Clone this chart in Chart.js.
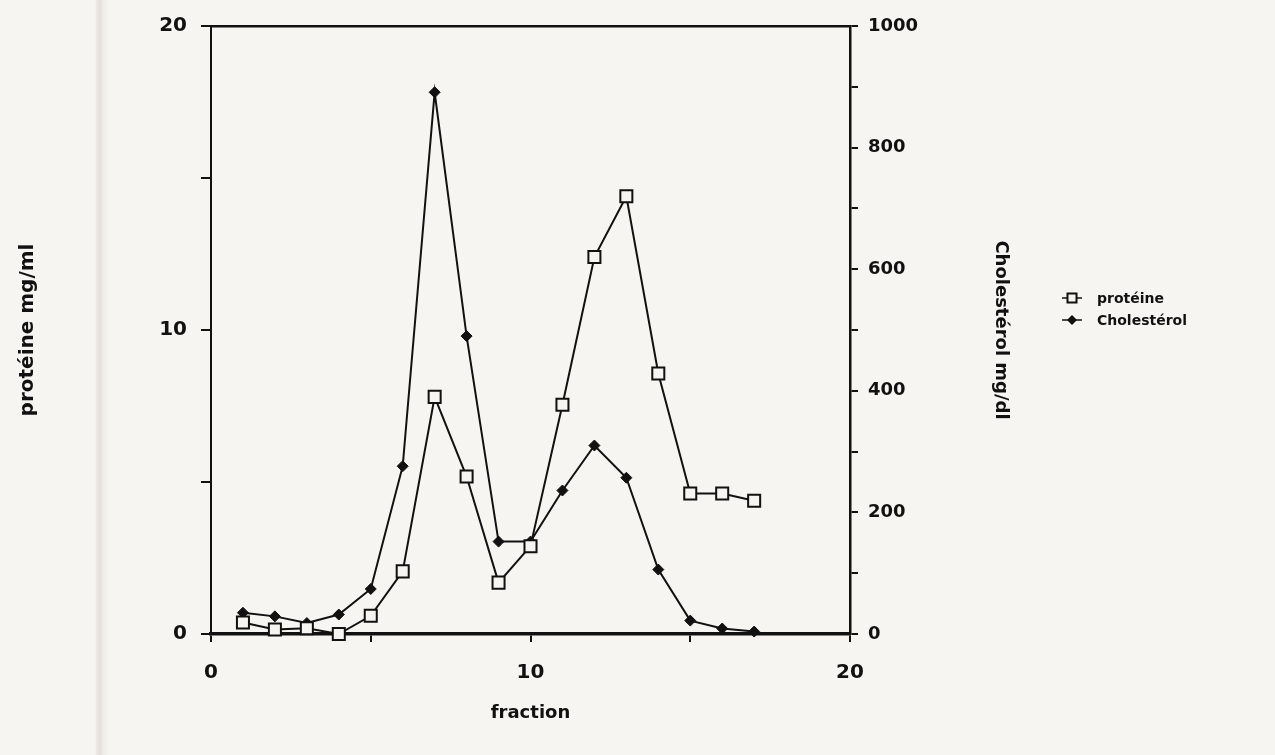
<!DOCTYPE html>
<html>
<head>
<meta charset="utf-8">
<script src="https://cdn.jsdelivr.net/npm/chart.js@4/dist/chart.umd.min.js"></script>
<style>
  body {
    margin: 0;
    background: linear-gradient(to right, #f6f5f1 0px, #f6f5f1 95px, #ebe5e1 97px, #e6dfdb 100px, #f1efea 104px, #f6f5f1 110px, #f6f5f1 100%);
  }
  canvas { display: block; }
</style>
</head>
<body>
<canvas id="fractionChart" width="1275" height="755"></canvas>
<script>
const fractions = [1, 2, 3, 4, 5, 6, 7, 8, 9, 10, 11, 12, 13, 14, 15, 16, 17];
const proteine = [0.38, 0.15, 0.19, 0, 0.6, 2.06, 7.8, 5.18, 1.69, 2.89, 7.54, 12.4, 14.4, 8.57, 4.62, 4.62, 4.38];
const cholesterol = [35, 29, 18, 32, 74, 276, 891, 490, 152, 152, 236, 310, 257, 106, 22, 9, 4];

const seriesLabels = ['protéine', 'Cholestérol'];
const xTitle = 'fraction';
const yTitle = 'protéine mg/ml';
const y1Title = 'Cholestérol mg/dl';

const paper = '#f6f5f1';
const ink = '#111';

// legend drawn on the right, like the original Mac plot
const sideLegend = {
  id: 'sideLegend',
  afterDraw(chart) {
    const c = chart.ctx;
    c.save();
    chart.data.datasets.forEach((ds, i) => {
      const y = 298 + i * 22;
      c.strokeStyle = ink;
      c.lineWidth = 1.5;
      c.beginPath();
      c.moveTo(1062, y);
      c.lineTo(1082, y);
      c.stroke();
      c.beginPath();
      if (i === 0) {
        c.fillStyle = paper;
        c.fillRect(1067.5, y - 4.5, 9, 9);
        c.lineWidth = 2;
        c.strokeRect(1067.5, y - 4.5, 9, 9);
      } else {
        c.fillStyle = ink;
        c.moveTo(1072, y - 5);
        c.lineTo(1077, y);
        c.lineTo(1072, y + 5);
        c.lineTo(1067, y);
        c.closePath();
        c.fill();
      }
      c.fillStyle = ink;
      c.font = 'bold 14px "DejaVu Sans"';
      c.textBaseline = 'middle';
      c.textAlign = 'left';
      c.fillText(ds.label, 1097, y + 1);
    });
    c.restore();
  }
};

const ctx = document.getElementById('fractionChart');

new Chart(ctx, {
  type: 'line',
  data: {
    datasets: [{
      label: seriesLabels[0],
      data: fractions.map((f, i) => ({ x: f, y: proteine[i] })),
      yAxisID: 'y',
      borderColor: ink,
      borderWidth: 2,
      pointStyle: 'rect',
      pointRadius: 8.5,
      pointBorderWidth: 2,
      pointBorderColor: ink,
      pointBackgroundColor: paper,
      tension: 0,
      clip: false
    }, {
      label: seriesLabels[1],
      data: fractions.map((f, i) => ({ x: f, y: cholesterol[i] })),
      yAxisID: 'y1',
      borderColor: ink,
      borderWidth: 2,
      pointStyle: 'rectRot',
      pointRadius: 5.5,
      pointBorderWidth: 1,
      pointBorderColor: ink,
      pointBackgroundColor: ink,
      tension: 0,
      clip: false
    }]
  },
  options: {
    responsive: false,
    animation: false,
    layout: {
      padding: { left: 0, right: 264, top: 22, bottom: 0 }
    },
    scales: {
      x: {
        type: 'linear',
        position: 'bottom',
        min: 0,
        max: 20,
        afterFit: (scale) => { scale.height = 121; },
        border: { display: true, color: ink, width: 3.5 },
        grid: { drawOnChartArea: false, drawTicks: true, tickLength: 8, color: ink, lineWidth: 2 },
        ticks: {
          stepSize: 5,
          padding: 19,
          color: ink,
          font: { family: 'DejaVu Sans', size: 20, weight: 'bold' },
          callback: (v) => (v % 10 === 0 ? v : '')
        },
        title: {
          display: true,
          text: xTitle,
          color: ink,
          font: { family: 'DejaVu Sans', size: 18, weight: 'bold' },
          padding: { top: 0, bottom: 31 }
        }
      },
      xTop: {
        type: 'linear',
        position: 'top',
        min: 0,
        max: 20,
        afterFit: (scale) => { scale.height = 0; },
        border: { display: true, color: ink, width: 2.5 },
        grid: { display: false },
        ticks: { display: false }
      },
      y: {
        type: 'linear',
        position: 'left',
        min: 0,
        max: 20,
        afterFit: (scale) => { scale.width = 211; },
        border: { display: true, color: ink, width: 2 },
        grid: { drawOnChartArea: false, drawTicks: true, tickLength: 10, color: ink, lineWidth: 2 },
        ticks: {
          stepSize: 5,
          padding: 14,
          color: ink,
          font: { family: 'DejaVu Sans', size: 20, weight: 'bold' },
          callback: (v) => (v % 10 === 0 ? v : '')
        },
        title: {
          display: true,
          text: yTitle,
          color: ink,
          font: { family: 'DejaVu Sans', size: 20, weight: 'bold' },
          padding: { top: 16, bottom: 0 }
        }
      },
      y1: {
        type: 'linear',
        position: 'right',
        min: 0,
        max: 1000,
        afterFit: (scale) => { scale.width = 161; },
        border: { display: true, color: ink, width: 2.5 },
        grid: { drawOnChartArea: false, drawTicks: true, tickLength: 8, color: ink, lineWidth: 2 },
        ticks: {
          stepSize: 100,
          padding: 10,
          color: ink,
          font: { family: 'DejaVu Sans', size: 18, weight: 'bold' },
          callback: (v) => (v % 200 === 0 ? v : '')
        },
        title: {
          display: true,
          text: y1Title,
          color: ink,
          font: { family: 'DejaVu Sans', size: 18, weight: 'bold' },
          padding: { top: 0, bottom: 0 }
        }
      }
    },
    plugins: {
      legend: { display: false },
      tooltip: { enabled: false }
    }
  },
  plugins: [sideLegend]
});
</script>
</body>
</html>
